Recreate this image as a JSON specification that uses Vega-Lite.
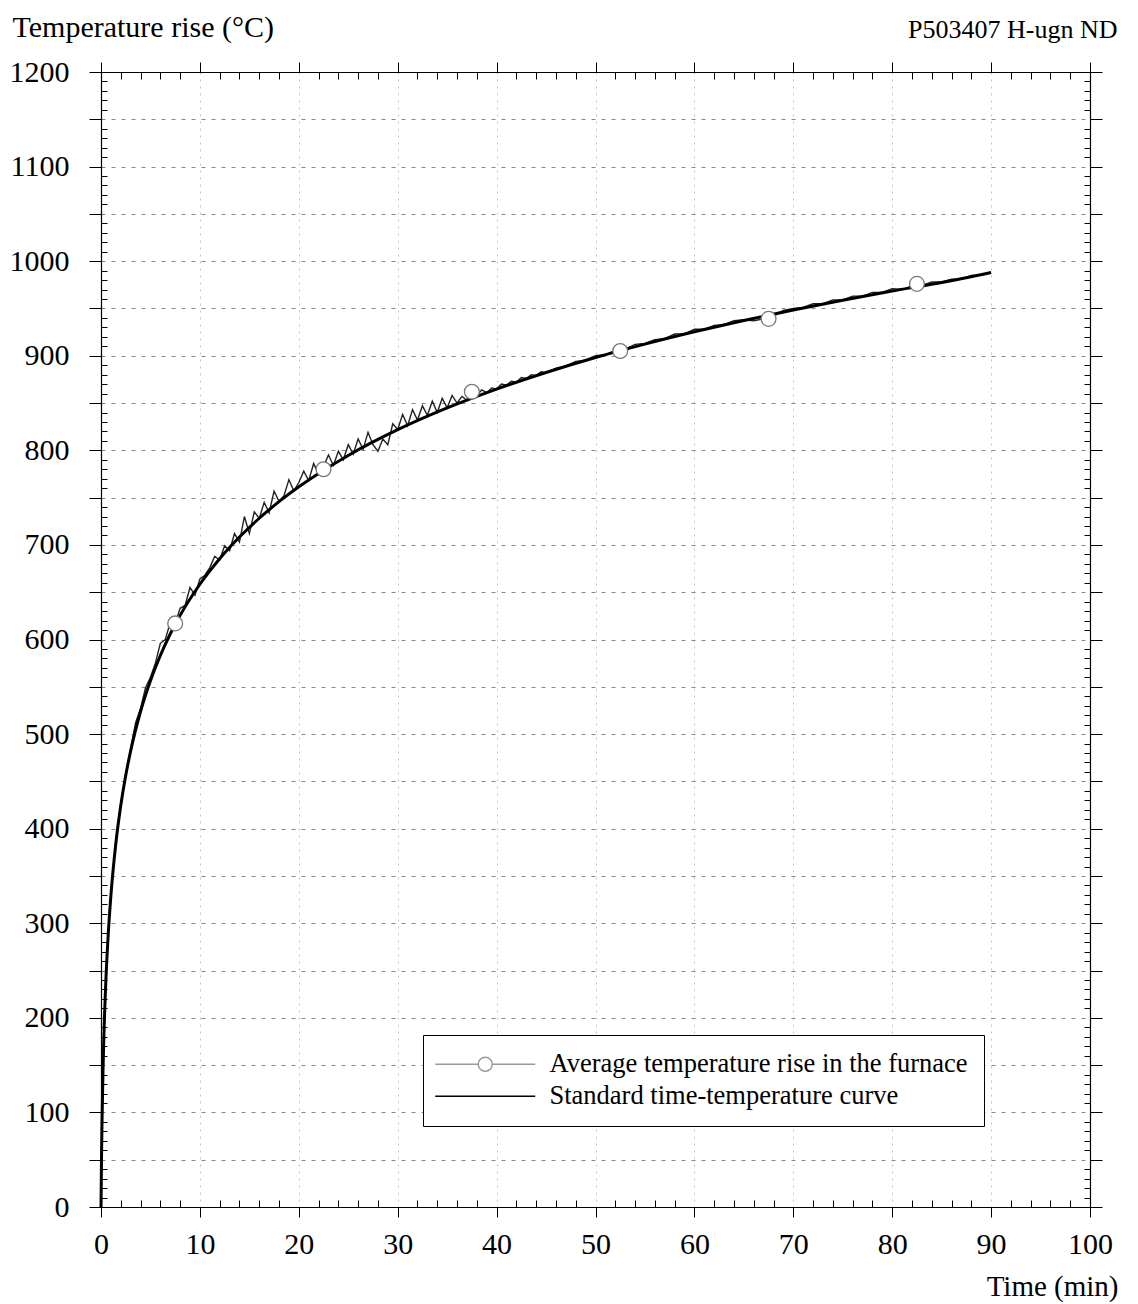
{
  "$schema": "https://vega.github.io/schema/vega-lite/v6.json",
  "width": 989,
  "height": 1135,
  "autosize": {"type": "none"},
  "padding": {"left": 101, "top": 72, "right": 48, "bottom": 97},
  "background": "white",
  "config": {
    "view": {"stroke": null},
    "font": "Liberation Serif",
    "axis": {
      "domainColor": "#000",
      "domainWidth": 1.2,
      "tickColor": "#000",
      "tickWidth": 1,
      "labelColor": "#000",
      "titleColor": "#000",
      "labelFont": "Liberation Serif",
      "titleFont": "Liberation Serif",
      "titleFontWeight": "normal",
      "labelFontSize": 30
    }
  },
  "datasets": {
    "measured": [
      {"t": 0, "temp": 0}, {"t": 0.1, "temp": 89}, {"t": 0.25, "temp": 166}, {"t": 0.5, "temp": 243}, {"t": 0.75, "temp": 293},
      {"t": 1, "temp": 331}, {"t": 1.5, "temp": 387}, {"t": 2, "temp": 427}, {"t": 2.5, "temp": 458}, {"t": 3, "temp": 485},
      {"t": 3.5, "temp": 512}, {"t": 4, "temp": 527}, {"t": 4.5, "temp": 549}, {"t": 5, "temp": 560}, {"t": 5.5, "temp": 575},
      {"t": 6, "temp": 596}, {"t": 6.5, "temp": 600}, {"t": 7, "temp": 618}, {"t": 7.5, "temp": 617}, {"t": 8, "temp": 633},
      {"t": 8.5, "temp": 636}, {"t": 9, "temp": 655}, {"t": 9.5, "temp": 647}, {"t": 10, "temp": 664}, {"t": 10.5, "temp": 668},
      {"t": 11, "temp": 676}, {"t": 11.5, "temp": 688}, {"t": 12, "temp": 684}, {"t": 12.5, "temp": 699}, {"t": 13, "temp": 694},
      {"t": 13.5, "temp": 712}, {"t": 14, "temp": 703}, {"t": 14.5, "temp": 730}, {"t": 15, "temp": 712}, {"t": 15.5, "temp": 735},
      {"t": 16, "temp": 728}, {"t": 16.5, "temp": 745}, {"t": 17, "temp": 734}, {"t": 17.5, "temp": 757}, {"t": 18, "temp": 746},
      {"t": 18.5, "temp": 752}, {"t": 19, "temp": 769}, {"t": 19.5, "temp": 757}, {"t": 20, "temp": 766}, {"t": 20.5, "temp": 778},
      {"t": 21, "temp": 768}, {"t": 21.5, "temp": 786}, {"t": 22, "temp": 775}, {"t": 22.5, "temp": 783}, {"t": 23, "temp": 795},
      {"t": 23.5, "temp": 784}, {"t": 24, "temp": 799}, {"t": 24.5, "temp": 790}, {"t": 25, "temp": 806}, {"t": 25.5, "temp": 796},
      {"t": 26, "temp": 812}, {"t": 26.5, "temp": 801}, {"t": 27, "temp": 819}, {"t": 27.5, "temp": 806}, {"t": 28, "temp": 799},
      {"t": 28.5, "temp": 812}, {"t": 29, "temp": 806}, {"t": 29.5, "temp": 828}, {"t": 30, "temp": 822}, {"t": 30.5, "temp": 838},
      {"t": 31, "temp": 826}, {"t": 31.5, "temp": 843}, {"t": 32, "temp": 832}, {"t": 32.5, "temp": 847}, {"t": 33, "temp": 837},
      {"t": 33.5, "temp": 852}, {"t": 34, "temp": 840}, {"t": 34.5, "temp": 855}, {"t": 35, "temp": 845}, {"t": 35.5, "temp": 858},
      {"t": 36, "temp": 850}, {"t": 36.5, "temp": 857}, {"t": 37, "temp": 853}, {"t": 37.5, "temp": 862}, {"t": 38, "temp": 858},
      {"t": 38.5, "temp": 864}, {"t": 39, "temp": 861}, {"t": 39.5, "temp": 866}, {"t": 40, "temp": 865}, {"t": 40.5, "temp": 870},
      {"t": 41, "temp": 869}, {"t": 41.5, "temp": 873}, {"t": 42, "temp": 872}, {"t": 42.5, "temp": 877}, {"t": 43, "temp": 876},
      {"t": 43.5, "temp": 880}, {"t": 44, "temp": 879}, {"t": 44.5, "temp": 883}, {"t": 45, "temp": 882}, {"t": 46, "temp": 887},
      {"t": 47, "temp": 889}, {"t": 48, "temp": 894}, {"t": 49, "temp": 895}, {"t": 50, "temp": 900}, {"t": 51, "temp": 901},
      {"t": 52, "temp": 906}, {"t": 53, "temp": 907}, {"t": 54, "temp": 912}, {"t": 55, "temp": 913}, {"t": 56, "temp": 917},
      {"t": 57, "temp": 918}, {"t": 58, "temp": 923}, {"t": 59, "temp": 923}, {"t": 60, "temp": 928}, {"t": 61, "temp": 928},
      {"t": 62, "temp": 932}, {"t": 63, "temp": 933}, {"t": 64, "temp": 937}, {"t": 65, "temp": 938}, {"t": 66, "temp": 937},
      {"t": 67, "temp": 939}, {"t": 68, "temp": 942}, {"t": 69, "temp": 948}, {"t": 70, "temp": 950}, {"t": 71, "temp": 951},
      {"t": 72, "temp": 955}, {"t": 73, "temp": 955}, {"t": 74, "temp": 959}, {"t": 75, "temp": 959}, {"t": 76, "temp": 963},
      {"t": 77, "temp": 963}, {"t": 78, "temp": 967}, {"t": 79, "temp": 967}, {"t": 80, "temp": 971}, {"t": 81, "temp": 970},
      {"t": 82, "temp": 974}, {"t": 83, "temp": 974}, {"t": 84, "temp": 978}, {"t": 85, "temp": 978}, {"t": 86, "temp": 981},
      {"t": 87, "temp": 981}, {"t": 88, "temp": 985}, {"t": 89, "temp": 985}, {"t": 90, "temp": 988}
    ],
    "standard": [
      {"t": 0, "temp": 0}, {"t": 0.05, "temp": 50.4}, {"t": 0.1, "temp": 88.1}, {"t": 0.2, "temp": 143.2}, {"t": 0.3, "temp": 183.4},
      {"t": 0.5, "temp": 241.1}, {"t": 0.75, "temp": 291.6}, {"t": 1, "temp": 329.2}, {"t": 1.5, "temp": 384.3}, {"t": 2, "temp": 424.5},
      {"t": 2.5, "temp": 456.2}, {"t": 3, "temp": 482.3}, {"t": 4, "temp": 523.9}, {"t": 5, "temp": 556.4}, {"t": 6, "temp": 583.1},
      {"t": 7, "temp": 605.8}, {"t": 8, "temp": 625.5}, {"t": 10, "temp": 658.4}, {"t": 12, "temp": 685.4}, {"t": 14, "temp": 708.3},
      {"t": 16, "temp": 728.2}, {"t": 18, "temp": 745.7}, {"t": 20, "temp": 761.4}, {"t": 25, "temp": 794.6}, {"t": 30, "temp": 821.8},
      {"t": 35, "temp": 844.8}, {"t": 40, "temp": 864.7}, {"t": 45, "temp": 882.3}, {"t": 50, "temp": 898.1}, {"t": 55, "temp": 912.3},
      {"t": 60, "temp": 925.3}, {"t": 65, "temp": 937.3}, {"t": 70, "temp": 948.4}, {"t": 75, "temp": 958.7}, {"t": 80, "temp": 968.4},
      {"t": 85, "temp": 977.4}, {"t": 90, "temp": 988.0}
    ],
    "markers": [
      {"t": 7.5, "temp": 617}, {"t": 22.5, "temp": 780}, {"t": 37.5, "temp": 862},
      {"t": 52.5, "temp": 905}, {"t": 67.5, "temp": 939}, {"t": 82.5, "temp": 976}
    ],
    "legend": [
      {"series": "Average temperature rise in the furnace"},
      {"series": "Standard time-temperature curve"}
    ]
  },
  "layer": [
    {
      "data": {"name": "measured"},
      "mark": {"type": "line", "color": "#222", "strokeWidth": 1.4},
      "encoding": {
        "x": {
          "field": "t", "type": "quantitative",
          "scale": {"domain": [0, 100], "nice": false},
          "axis": {
            "orient": "bottom",
            "title": "Time (min)",
            "tickCount": 50,
            "labelExpr": "datum.value % 10 === 0 ? datum.label : ''",
            "labelOverlap": false,
            "labelFlush": false,
            "labelFontSize": 30,
            "labelPadding": 12,
            "tickSize": {"condition": {"test": "datum.value % 10 === 0", "value": 10}, "value": -7},
            "grid": true,
            "gridColor": "#aaa",
            "gridDash": [2, 5],
            "gridOpacity": {"condition": {"test": "datum.value % 10 === 0", "value": 0.7}, "value": 0},
            "titleAngle": 0,
            "titleAlign": "right",
            "titleBaseline": "alphabetic",
            "titleX": 1017,
            "titleY": 88,
            "titleFontSize": 29
          }
        },
        "y": {
          "field": "temp", "type": "quantitative",
          "scale": {"domain": [0, 1200], "nice": false},
          "axis": {
            "orient": "left",
            "title": "Temperature rise (°C)",
            "tickCount": 120,
            "format": "d",
            "labelExpr": "datum.value % 100 === 0 ? datum.label : ''",
            "labelOverlap": false,
            "labelFlush": false,
            "labelFontSize": 30,
            "labelPadding": 20,
            "tickSize": {"condition": {"test": "datum.value % 50 === 0", "value": 12}, "value": -6},
            "grid": true,
            "gridColor": "#888",
            "gridDash": [4, 6],
            "gridWidth": 1.2,
            "gridOpacity": {"condition": {"test": "datum.value % 50 === 0", "value": 1}, "value": 0},
            "titleAngle": 0,
            "titleAlign": "left",
            "titleBaseline": "alphabetic",
            "titleX": -89,
            "titleY": -36,
            "titleFontSize": 30
          }
        }
      }
    },
    {
      "data": {"name": "standard"},
      "mark": {"type": "line", "color": "#000", "strokeWidth": 3, "interpolate": "monotone"},
      "encoding": {
        "x": {
          "field": "t", "type": "quantitative",
          "axis": {
            "orient": "top",
            "title": "P503407 H-ugn ND",
            "tickCount": 50,
            "labels": false,
            "grid": false,
            "tickSize": {"condition": {"test": "datum.value % 10 === 0", "value": 10}, "value": -7},
            "titleAngle": 0,
            "titleAlign": "right",
            "titleBaseline": "alphabetic",
            "titleX": 1016,
            "titleY": -35,
            "titleFontSize": 26
          }
        },
        "y": {
          "field": "temp", "type": "quantitative",
          "axis": {
            "orient": "right",
            "title": null,
            "tickCount": 120,
            "labels": false,
            "grid": false,
            "tickSize": {"condition": {"test": "datum.value % 50 === 0", "value": 12}, "value": -6}
          }
        }
      }
    },
    {
      "data": {"name": "markers"},
      "mark": {"type": "point", "shape": "circle", "size": 220, "filled": true, "fill": "white", "stroke": "#777", "strokeWidth": 1.3, "opacity": 1},
      "encoding": {
        "x": {"field": "t", "type": "quantitative", "axis": null},
        "y": {"field": "temp", "type": "quantitative", "axis": null}
      }
    },
    {
      "data": {"name": "legend"},
      "mark": {"type": "point", "opacity": 0, "size": 100},
      "encoding": {
        "color": {
          "field": "series", "type": "nominal",
          "scale": {"domain": ["Average temperature rise in the furnace", "Standard time-temperature curve"], "range": ["#9a9a9a", "#000000"]},
          "legend": {
            "title": null,
            "orient": "none",
            "legendX": 322,
            "legendY": 963,
            "strokeColor": "#000",
            "fillColor": "#fff",
            "padding": 16,
            "symbolSize": 100,
            "labelOffset": 84,
            "labelFont": "Liberation Serif",
            "labelFontSize": 26.5,
            "labelColor": "#000",
            "labelLimit": 700,
            "rowPadding": 5,
            "encode": {
              "symbols": {
                "update": {
                  "opacity": {"value": 1},
                  "fill": {"value": "white"},
                  "strokeWidth": [{"test": "datum.value === 'Standard time-temperature curve'", "value": 2.5}, {"value": 1.2}]
                }
              }
            }
          }
        },
        "shape": {
          "field": "series", "type": "nominal",
          "scale": {
            "domain": ["Average temperature rise in the furnace", "Standard time-temperature curve"],
            "range": ["M-3.4,0H5.2M8,0H16.6M8,0A1.4,1.4 0 1,1 5.2,0A1.4,1.4 0 1,1 8,0", "M-3.4,0H16.6"]
          },
          "legend": {
            "title": null,
            "orient": "none",
            "legendX": 322,
            "legendY": 963,
            "strokeColor": "#000",
            "fillColor": "#fff",
            "padding": 16,
            "symbolSize": 100,
            "labelOffset": 84,
            "labelFont": "Liberation Serif",
            "labelFontSize": 26.5,
            "labelColor": "#000",
            "labelLimit": 700,
            "rowPadding": 5,
            "encode": {
              "symbols": {
                "update": {
                  "opacity": {"value": 1},
                  "fill": {"value": "white"},
                  "strokeWidth": [{"test": "datum.value === 'Standard time-temperature curve'", "value": 2.5}, {"value": 1.2}]
                }
              }
            }
          }
        }
      }
    }
  ],
  "resolve": {"axis": {"x": "independent", "y": "independent"}}
}
